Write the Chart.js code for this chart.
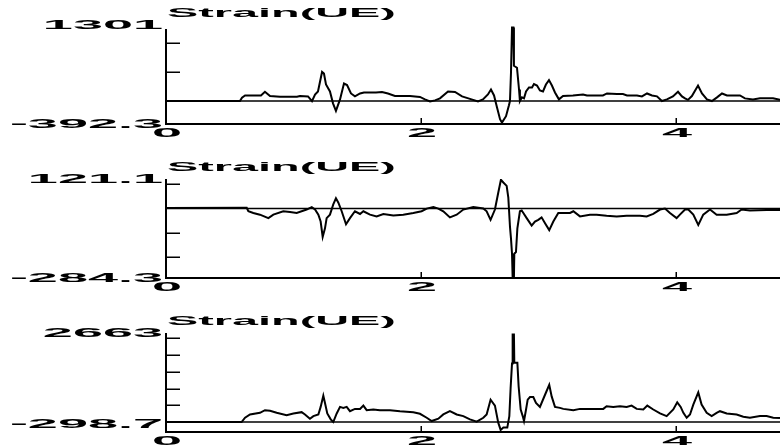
<!DOCTYPE html>
<html>
<head>
<meta charset="utf-8">
<script src="https://cdn.jsdelivr.net/npm/chart.js@4.4.1/dist/chart.umd.min.js"></script>
<style>
  html, body { margin: 0; padding: 0; background: #fff; width: 780px; height: 448px; overflow: hidden; }
  .panel { position: absolute; left: 0; width: 780px; height: 137px; }
  canvas { display: block; }
</style>
</head>
<body>
<div class="panel" style="top:0px"><canvas id="g1" width="780" height="137"></canvas></div>
<div class="panel" style="top:154px"><canvas id="g2" width="780" height="137"></canvas></div>
<div class="panel" style="top:308px"><canvas id="g3" width="780" height="137"></canvas></div>
<script>
// ---- Gauge 1 ----
const time1 = [
  0, 0.580, 0.596, 0.620, 0.745, 0.776, 0.816, 0.894, 1.027, 1.051,
  1.114, 1.145, 1.169, 1.192, 1.224, 1.239, 1.255, 1.286, 1.310, 1.333,
  1.365, 1.396, 1.420, 1.451, 1.482, 1.522, 1.553, 1.600, 1.647, 1.694,
  1.741, 1.796, 1.914, 1.992, 2.031, 2.071, 2.110, 2.149, 2.212, 2.267,
  2.322, 2.384, 2.447, 2.486, 2.525, 2.549, 2.573, 2.596, 2.620, 2.635,
  2.667, 2.690, 2.698, 2.706, 2.714, 2.725, 2.729, 2.753, 2.769, 2.776,
  2.792, 2.808, 2.824, 2.847, 2.871, 2.886, 2.910, 2.933, 2.957, 2.980,
  3.004, 3.027, 3.051, 3.082, 3.114, 3.192, 3.271, 3.302, 3.427, 3.459,
  3.537, 3.584, 3.616, 3.694, 3.733, 3.773, 3.812, 3.851, 3.890, 3.929,
  3.976, 4.016, 4.047, 4.071, 4.094, 4.125, 4.173, 4.204, 4.243, 4.282,
  4.322, 4.361, 4.400, 4.502, 4.541, 4.604, 4.659, 4.761, 4.816
];
const strain1 = [
  0, 0, 57, 96, 96, 159, 85, 75, 75, 85,
  80, 0, 113, 164, 498, 469, 283, 164, -39, -169,
  29, 300, 274, 130, 80, 130, 147, 147, 147, 156,
  130, 88, 85, 71, 29, -5, 12, 46, 164, 156,
  80, 37, -5, 29, 113, 198, 96, -107, -310, -369,
  -259, -73, 0, 486, 1260, 1260, 604, 570, 198, 0,
  63, 46, 164, 232, 232, 291, 266, 181, 164, 283,
  359, 266, 147, 29, 85, 96, 113, 96, 96, 130,
  120, 120, 96, 96, 80, 130, 96, 80, 0, 29,
  80, 159, 80, 46, 20, 85, 266, 130, 29, 0,
  63, 130, 96, 96, 46, 29, 46, 46, 20
];
const range1 = [-392.3, 1301];
const yLabels1 = ['-392.3', '1301'];
const yTicks1 = [500, 1000];

// ---- Gauge 2 ----
const time2 = [
  0, 0.633, 0.646, 0.685, 0.737, 0.803, 0.842, 0.920, 0.973, 1.025,
  1.103, 1.143, 1.169, 1.195, 1.213, 1.229, 1.247, 1.260, 1.286, 1.312,
  1.333, 1.352, 1.378, 1.412, 1.443, 1.482, 1.522, 1.548, 1.600, 1.652,
  1.705, 1.783, 1.861, 1.940, 2.005, 2.045, 2.097, 2.136, 2.175, 2.227,
  2.280, 2.332, 2.410, 2.489, 2.515, 2.546, 2.580, 2.606, 2.627, 2.646,
  2.672, 2.685, 2.698, 2.706, 2.714, 2.719, 2.729, 2.732, 2.745, 2.756,
  2.776, 2.790, 2.803, 2.829, 2.868, 2.894, 2.920, 2.946, 2.973, 3.006,
  3.038, 3.077, 3.116, 3.169, 3.195, 3.247, 3.325, 3.378, 3.456, 3.535,
  3.613, 3.718, 3.770, 3.822, 3.875, 3.914, 3.953, 4.005, 4.031, 4.071,
  4.097, 4.136, 4.175, 4.214, 4.267, 4.319, 4.398, 4.476, 4.515, 4.580,
  4.711, 4.816
];
const strain2 = [
  2, 3, -11, -18, -25, -39, -25, -11, -14, -18,
  -4, 6, -4, -25, -53, -116, -81, -39, -25, 17,
  42, 24, -11, -64, -39, -11, -22, -11, -25, -32,
  -22, -28, -25, -18, -11, 0, 6, 0, -11, -36,
  -25, -4, 6, 0, -11, -46, -4, 65, 118, 107,
  93, 45, -74, -123, -185, -283, -283, -185, -178, -81,
  -11, -8, -18, -39, -70, -53, -46, -36, -60, -88,
  -53, -18, -18, -18, -11, -32, -25, -25, -29, -32,
  -29, -29, -32, -22, -4, 0, -18, -39, -25, -4,
  -4, -25, -67, -25, -4, -25, -25, -18, -4, -8,
  -6, -6
];
const range2 = [-284.3, 121.1];
const yLabels2 = ['-284.3', '121.1'];
const yTicks2 = [-200, -100, 100];

// ---- Gauge 3 ----
const time3 = [
  0, 0.593, 0.620, 0.659, 0.737, 0.776, 0.816, 0.868, 0.946, 0.999,
  1.064, 1.090, 1.129, 1.156, 1.195, 1.213, 1.234, 1.247, 1.265, 1.292,
  1.312, 1.339, 1.365, 1.391, 1.417, 1.443, 1.482, 1.522, 1.548, 1.574,
  1.626, 1.678, 1.757, 1.835, 1.940, 1.992, 2.045, 2.084, 2.136, 2.175,
  2.227, 2.280, 2.332, 2.384, 2.437, 2.489, 2.515, 2.546, 2.580, 2.606,
  2.625, 2.646, 2.677, 2.693, 2.703, 2.714, 2.719, 2.729, 2.732, 2.756,
  2.766, 2.782, 2.798, 2.808, 2.824, 2.837, 2.855, 2.881, 2.902, 2.933,
  2.973, 3.006, 3.025, 3.051, 3.090, 3.116, 3.195, 3.247, 3.430, 3.456,
  3.508, 3.561, 3.613, 3.652, 3.692, 3.744, 3.775, 3.822, 3.875, 3.927,
  3.979, 4.010, 4.037, 4.058, 4.084, 4.110, 4.136, 4.175, 4.201, 4.241,
  4.280, 4.319, 4.345, 4.398, 4.476, 4.528, 4.580, 4.659, 4.711, 4.763,
  4.816
];
const strain3 = [
  0, 0, 128, 226, 275, 354, 334, 275, 206, 256,
  295, 226, 98, 177, 226, 452, 786, 570, 256, 79,
  0, 256, 452, 423, 452, 324, 393, 393, 492, 354,
  374, 354, 354, 324, 295, 246, 128, 29, 98, 226,
  324, 226, 177, 79, 10, 128, 226, 668, 492, -20,
  -236, -167, -167, 177, 1012, 1750, 2615, 2615, 1770, 1770,
  1062, 374, 177, 29, 374, 668, 747, 747, 570, 452,
  816, 1111, 767, 452, 423, 393, 354, 393, 393, 472,
  452, 472, 452, 492, 393, 374, 492, 374, 256, 177,
  374, 590, 452, 275, 128, 226, 521, 885, 521, 275,
  177, 275, 324, 256, 226, 157, 128, 177, 177, 128,
  118
];
const range3 = [-298.7, 2663];
const yLabels3 = ['-298.7', '2663'];
const yTicks3 = [500, 1000, 1500, 2000, 2500];

// ---- Shared time axis ----
const timeRange = [0, 4.816];
const xTicks = [0, 2, 4];
const xTickLabels = ['0', '2', '4'];
const seriesTitle = 'Strain(UE)';

const FONT = 'bold 12px "Liberation Sans", Arial, Helvetica, sans-serif';

function wideText(ctx, text, x, y, sx, align) {
  ctx.save();
  ctx.translate(x, y);
  ctx.scale(sx, 1);
  ctx.font = FONT;
  ctx.fillStyle = '#000';
  ctx.textAlign = align;
  ctx.textBaseline = 'alphabetic';
  ctx.fillText(text, 0, 0);
  ctx.restore();
}

// Frame, ticks and stretched labels drawn in the style of the recorder plot
const framePlugin = {
  id: 'frame',
  beforeDatasetsDraw(chart) {
    const { ctx, chartArea: a, scales: { y } } = chart;
    const y0 = y.getPixelForValue(0);
    ctx.save();
    ctx.strokeStyle = '#000';
    ctx.lineWidth = 1.5;
    ctx.beginPath();
    ctx.moveTo(a.left, y0);
    ctx.lineTo(a.right, y0);
    ctx.stroke();
    ctx.restore();
  },
  afterDraw(chart, args, opts) {
    const { ctx, chartArea: a, scales: { x, y } } = chart;
    ctx.save();
    ctx.strokeStyle = '#000';
    ctx.lineCap = 'butt';

    // axis lines
    ctx.lineWidth = 2;
    ctx.beginPath();
    ctx.moveTo(a.left, a.top + opts.axisInset);
    ctx.lineTo(a.left, a.bottom);
    ctx.lineTo(a.right, a.bottom);
    ctx.stroke();

    // y ticks, pointing into the plot
    ctx.lineWidth = 1.5;
    ctx.beginPath();
    opts.yTicks.forEach(v => {
      const py = Math.round(y.getPixelForValue(v)) + 0.25;
      ctx.moveTo(a.left, py);
      ctx.lineTo(a.left + 14, py);
    });
    ctx.stroke();

    // x ticks, pointing up
    ctx.beginPath();
    xTicks.forEach(v => {
      if (v === timeRange[0]) return;
      const px = Math.round(x.getPixelForValue(v)) + 0.25;
      ctx.moveTo(px, a.bottom);
      ctx.lineTo(px, a.bottom - 6);
    });
    ctx.stroke();
    ctx.restore();

    // title
    wideText(ctx, seriesTitle, a.left + 1, 17, 3.9, 'left');

    // y range labels
    wideText(ctx, opts.yLabels[1], a.left - 3, a.top + 4, 4.5, 'right');
    wideText(ctx, opts.yLabels[0], a.left - 3, a.bottom + opts.lowLabelShift, 4.5, 'right');

    // x tick labels (cut by the panel edge)
    xTicks.forEach((v, i) => {
      wideText(ctx, xTickLabels[i], x.getPixelForValue(v) + 1, a.bottom + 13, 4.5, 'center');
    });
  }
};

function makeGauge(id, times, values, range, yLabels, yTicks, axisInset, lowLabelShift) {
  const points = times.map((t, i) => ({ x: t, y: values[i] }));
  return new Chart(document.getElementById(id), {
    type: 'line',
    data: {
      datasets: [{
        data: points,
        borderColor: '#000',
        borderWidth: 2,
        pointRadius: 0,
        tension: 0,
        fill: false
      }]
    },
    options: {
      responsive: false,
      animation: false,
      devicePixelRatio: 1,
      layout: { padding: { left: 166, right: 0, top: 25, bottom: 13 } },
      scales: {
        x: { type: 'linear', min: timeRange[0], max: timeRange[1], display: false },
        y: { type: 'linear', min: range[0], max: range[1], display: false }
      },
      plugins: {
        legend: { display: false },
        tooltip: { enabled: false },
        frame: { yLabels, yTicks, axisInset, lowLabelShift }
      }
    },
    plugins: [framePlugin]
  });
}

makeGauge('g1', time1, strain1, range1, yLabels1, yTicks1, 4, 4);
makeGauge('g2', time2, strain2, range2, yLabels2, yTicks2, 0, 4);
makeGauge('g3', time3, strain3, range3, yLabels3, yTicks3, 0, -4);
</script>
</body>
</html>
